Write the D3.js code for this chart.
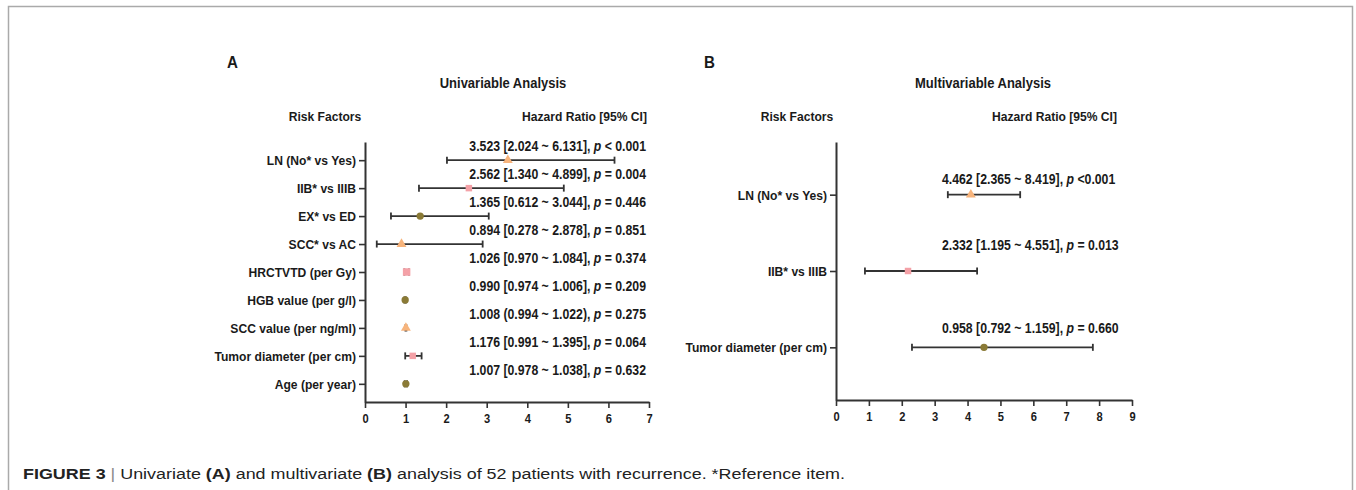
<!DOCTYPE html>
<html>
<head>
<meta charset="utf-8">
<script src="https://cdn.jsdelivr.net/npm/d3@7"></script>
<style>
  body { margin: 0; background: #fff; }
  svg text { font-family: "Liberation Sans", Arial, Helvetica, sans-serif; fill: #1a1a1a; }
</style>
</head>
<body>
<div id="chart"></div>
<script>
// ---- data ----
const uniFactors = ["LN (No* vs Yes)", "IIB* vs IIIB", "EX* vs ED", "SCC* vs AC", "HRCTVTD (per Gy)",
  "HGB value (per g/l)", "SCC value (per ng/ml)", "Tumor diameter (per cm)", "Age (per year)"];
const uniHR   = [3.52, 2.56, 1.36, 0.90, 1.026, 0.990, 1.008, 1.176, 1.007];
const uniLow  = [2.02, 1.33, 0.64, 0.29, 0.970, 0.974, 0.994, 0.991, 0.978];
const uniHigh = [6.15, 4.90, 3.05, 2.90, 1.084, 1.006, 1.022, 1.395, 1.038];
const uniText = [
  ["3.523 [2.024 ~ 6.131], ", "p", " < 0.001"],
  ["2.562 [1.340 ~ 4.899], ", "p", " = 0.004"],
  ["1.365 [0.612 ~ 3.044], ", "p", " = 0.446"],
  ["0.894 [0.278 ~ 2.878], ", "p", " = 0.851"],
  ["1.026 [0.970 ~ 1.084], ", "p", " = 0.374"],
  ["0.990 [0.974 ~ 1.006], ", "p", " = 0.209"],
  ["1.008 (0.994 ~ 1.022), ", "p", " = 0.275"],
  ["1.176 [0.991 ~ 1.395], ", "p", " = 0.064"],
  ["1.007 [0.978 ~ 1.038], ", "p", " = 0.632"]
];
const uniTicks = [0, 1, 2, 3, 4, 5, 6, 7];

const multiFactors = ["LN  (No* vs Yes)", "IIB* vs IIIB", "Tumor diameter (per cm)"];
const multiHR   = [4.10, 2.19, 4.50];
const multiLow  = [3.40, 0.88, 2.31];
const multiHigh = [5.60, 4.29, 7.81];
const multiText = [
  ["4.462 [2.365 ~ 8.419], ", "p", " <0.001"],
  ["2.332 [1.195 ~ 4.551], ", "p", " = 0.013"],
  ["0.958 [0.792 ~ 1.159], ", "p", " = 0.660"]
];
const multiTicks = [0, 1, 2, 3, 4, 5, 6, 7, 8, 9];

const markerShapes = [d3.symbolTriangle, d3.symbolSquare, d3.symbolCircle];
const markerColors = ["#f7b47c", "#f4a1a7", "#8a7a36"];

const W = 1356, H = 490;
const SX = 0.89; // the figure's lettering is a bit condensed
const svg = d3.select("#chart").append("svg").attr("width", W).attr("height", H);

// frame
svg.append("path")
  .attr("d", `M8.5,${H} V6.5 H1352.5 V${H}`)
  .attr("fill", "none").attr("stroke", "#aaa").attr("stroke-width", 1.5);

// condensed text placed at (x, y)
function label(g, x, y, str, size, anchor) {
  return g.append("text")
    .attr("transform", `translate(${x},${y}) scale(${SX},1)`)
    .attr("text-anchor", anchor || "start")
    .style("font-size", size + "px").style("font-weight", "bold")
    .text(str);
}

function forest(opt) {
  const g = svg.append("g");
  const x = d3.scaleLinear().domain(opt.domain).range(opt.xr);
  const y = d3.scalePoint().domain(opt.factors).range(opt.yr).padding(opt.pad);

  const xAxis = g.append("g").attr("transform", `translate(0,${opt.yr[1]})`)
    .call(d3.axisBottom(x).tickValues(opt.ticks).tickFormat(d3.format("d")).tickSize(6).tickSizeOuter(0));
  const yAxis = g.append("g").attr("transform", `translate(${opt.xr[0]},0)`)
    .call(d3.axisLeft(y).tickSize(6).tickPadding(3).tickSizeOuter(0));
  [xAxis, yAxis].forEach(a => {
    a.select(".domain").attr("stroke", "#333").attr("stroke-width", 2);
    a.selectAll(".tick line").attr("stroke", "#333").attr("stroke-width", 1.6);
    a.selectAll("text").attr("fill", "#1a1a1a").style("font-weight", "bold")
      .style("font-family", '"Liberation Sans", Arial, sans-serif');
  });
  yAxis.selectAll("text").style("font-size", "13.6px")
    .attr("x", -9 / SX).attr("transform", `scale(${SX},1)`);
  xAxis.selectAll("text").style("font-size", "12.5px").attr("dy", "0.95em")
    .attr("transform", `scale(${SX},1)`).attr("x", 0);

  const rows = g.selectAll(".row").data(opt.factors).enter().append("g");
  // whiskers
  rows.append("line")
    .attr("x1", (d, i) => x(opt.low[i])).attr("x2", (d, i) => x(opt.high[i]))
    .attr("y1", d => y(d)).attr("y2", d => y(d))
    .attr("stroke", "#333").attr("stroke-width", 1.8);
  ["low", "high"].forEach(k => {
    rows.append("line")
      .attr("x1", (d, i) => x(opt[k][i])).attr("x2", (d, i) => x(opt[k][i]))
      .attr("y1", d => y(d) - 3.5).attr("y2", d => y(d) + 3.5)
      .attr("stroke", "#333").attr("stroke-width", 1.8);
  });
  // markers
  rows.append("path")
    .attr("transform", (d, i) => `translate(${x(opt.hr[i])},${y(d)})`)
    .attr("d", (d, i) => d3.symbol().type(markerShapes[i % 3]).size(opt.sizes ? opt.sizes[i] : 42)())
    .attr("fill", (d, i) => markerColors[i % 3]);
  // annotation text
  rows.each(function (d, i) {
    const t = label(d3.select(this), opt.textX, y(d) + opt.textDy[i], null, 13.8, opt.anchor);
    const parts = opt.text[i];
    t.append("tspan").text(parts[0]);
    t.append("tspan").style("font-style", "italic").text(parts[1]);
    t.append("tspan").text(parts[2]);
  });

  // headings
  label(g, opt.panelX, 68, opt.panel, 17);
  label(g, opt.titleX, 88, opt.title, 14.6, "middle");
  label(g, opt.rfX, 121, "Risk Factors", 13.6, "middle");
  label(g, opt.hrX, 121, "Hazard Ratio [95% CI]", 13.6, "end");
}

forest({
  factors: uniFactors, hr: uniHR, low: uniLow, high: uniHigh, text: uniText, ticks: uniTicks,
  domain: [0, 7], xr: [365, 649], yr: [142, 402], pad: 0.65,
  sizes: [42, 42, 42, 42, 56, 42, 42, 42, 42],
  textX: 646, anchor: "end", textDy: [-9, -9, -9, -9, -9, -9, -9, -9, -9],
  panel: "A", panelX: 227, title: "Univariable Analysis", titleX: 503, rfX: 325, hrX: 647
});

forest({
  factors: multiFactors, hr: multiHR, low: multiLow, high: multiHigh, text: multiText, ticks: multiTicks,
  domain: [0, 9], xr: [836, 1132], yr: [142, 400], pad: 0.69,
  textX: 942, anchor: "start", textDy: [-11, -21, -14],
  panel: "B", panelX: 704, title: "Multivariable Analysis", titleX: 983, rfX: 797, hrX: 1117
});

// caption
const cap = svg.append("text").attr("x", 23).attr("y", 479)
  .style("font-family", '"Liberation Sans Narrow", "Liberation Sans", Arial, sans-serif')
  .style("font-size", "15.5px").attr("fill", "#222").attr("xml:space", "preserve");
const capParts = [
  ["FIGURE 3", "bold", "#222"], [" | ", "normal", "#888"], ["Univariate ", "normal", "#222"],
  ["(A)", "bold", "#222"], [" and multivariate ", "normal", "#222"], ["(B)", "bold", "#222"],
  [" analysis of 52 patients with recurrence. *Reference item.", "normal", "#222"]
];
capParts.forEach(p => {
  cap.append("tspan").text(p[0]).style("font-weight", p[1]).attr("fill", p[2]);
});
cap.attr("textLength", 822).attr("lengthAdjust", "spacingAndGlyphs");
</script>
</body>
</html>
